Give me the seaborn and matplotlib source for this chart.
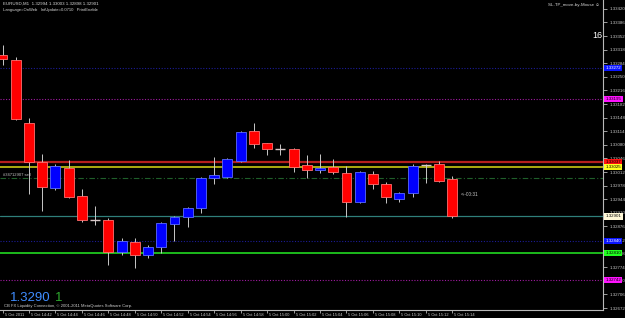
import matplotlib
matplotlib.use("Agg")
import matplotlib.pyplot as plt
import matplotlib.transforms as mtransforms
import seaborn as sns
import pandas as pd

# ---------------- data ----------------
minutes = ["14:40", "14:41", "14:42", "14:43", "14:44", "14:45", "14:46", "14:47",
           "14:48", "14:49", "14:50", "14:51", "14:52", "14:53", "14:54", "14:55",
           "14:56", "14:57", "14:58", "14:59", "15:00", "15:01", "15:02", "15:03",
           "15:04", "15:05", "15:06", "15:07", "15:08", "15:09", "15:10", "15:11",
           "15:12", "15:13", "15:14"]
opens = [1.33305, 1.33292, 1.33135, 1.33037, 1.32972, 1.33022, 1.32952, 1.32893,
         1.32892, 1.32812, 1.32837, 1.32805, 1.32825, 1.32882, 1.32900, 1.32922,
         1.32997, 1.33000, 1.33040, 1.33115, 1.33085, 1.33070, 1.33070, 1.33030,
         1.33017, 1.33025, 1.33010, 1.32937, 1.33007, 1.32982, 1.32945, 1.32960,
         1.33030, 1.33032, 1.32994]
highs = [1.33330, 1.33300, 1.33147, 1.33057, 1.33032, 1.33042, 1.32970, 1.32927,
         1.32897, 1.32847, 1.32847, 1.32830, 1.32887, 1.32902, 1.32925, 1.33000,
         1.33050, 1.33047, 1.33115, 1.33135, 1.33085, 1.33082, 1.33072, 1.33055,
         1.33057, 1.33045, 1.33027, 1.33015, 1.33015, 1.32987, 1.32962, 1.33032,
         1.33032, 1.33040, 1.33003]
lows = [1.33280, 1.33142, 1.32957, 1.32915, 1.32967, 1.32947, 1.32887, 1.32880,
        1.32780, 1.32805, 1.32772, 1.32797, 1.32810, 1.32840, 1.32875, 1.32910,
        1.32982, 1.32997, 1.33037, 1.33072, 1.33055, 1.33055, 1.33012, 1.32997,
        1.33010, 1.33007, 1.32900, 1.32935, 1.32970, 1.32935, 1.32937, 1.32950,
        1.32985, 1.32987, 1.32898]
closes = [1.33295, 1.33145, 1.33037, 1.32975, 1.33027, 1.32950, 1.32892, 1.32893,
          1.32812, 1.32840, 1.32805, 1.32825, 1.32885, 1.32900, 1.32922, 1.32997,
          1.33005, 1.33045, 1.33112, 1.33082, 1.33070, 1.33070, 1.33025, 1.33017,
          1.33022, 1.33012, 1.32937, 1.33012, 1.32982, 1.32950, 1.32960, 1.33027,
          1.33030, 1.32990, 1.32901]

time_labels = ["5 Oct 2011", "5 Oct 14:42", "5 Oct 14:44", "5 Oct 14:46", "5 Oct 14:48",
               "5 Oct 14:50", "5 Oct 14:52", "5 Oct 14:54", "5 Oct 14:56", "5 Oct 14:58",
               "5 Oct 15:00", "5 Oct 15:02", "5 Oct 15:04", "5 Oct 15:06", "5 Oct 15:08",
               "5 Oct 15:10", "5 Oct 15:12", "5 Oct 15:14"]
time_label_minutes = ["14:40", "14:42", "14:44", "14:46", "14:48", "14:50", "14:52",
                      "14:54", "14:56", "14:58", "15:00", "15:02", "15:04", "15:06",
                      "15:08", "15:10", "15:12", "15:14"]

price_ticks = [1.33420, 1.33386, 1.33352, 1.33318, 1.33284, 1.33250, 1.33216, 1.33182,
               1.33148, 1.33114, 1.33080, 1.33046, 1.33012, 1.32978, 1.32944, 1.32910,
               1.32876, 1.32842, 1.32808, 1.32774, 1.32740, 1.32706, 1.32672]

level_prices = [1.33272, 1.33195, 1.33037, 1.33025, 1.32997, 1.32901, 1.32840, 1.32810, 1.32742]
level_colors = ["#1c1c96", "#a21aa2", "#b41e1e", "#c8c814", "#1f5f2a", "#2f7f7a",
                "#1c1c96", "#1ec81e", "#a21aa2"]
level_styles = [(0, (1, 1.5)), (0, (1, 1.5)), "-", "-", (0, (5, 2, 1, 2)), "-",
                (0, (1, 1.5)), "-", (0, (1, 1.5))]
level_widths = [0.8, 0.8, 1.6, 1.2, 0.8, 0.9, 0.8, 1.3, 0.8]
box_colors = ["#0a14ff", "#ff14ff", "#ff1010", "#ffff20", None, "#fff8d8",
              "#0a14ff", "#20ff20", "#ff14ff"]
box_text = ["white", "black", "black", "black", None, "black", "white", "black", "black"]

# ---------------- figure ----------------
sns.set_theme(style="dark")
plt.rcParams["font.family"] = ["Liberation Sans", "DejaVu Sans"]

df = pd.DataFrame({"minute": minutes, "open": opens, "high": highs,
                   "low": lows, "close": closes})
df["idx"] = range(len(df))

fig = plt.figure(figsize=(6.25, 3.18), dpi=100, facecolor="black")
ax = fig.add_axes([0.0, 8 / 318, 603 / 625, 310 / 318])
ax.set_facecolor("black")
ax.grid(False)

# level lines
for p, c, ls, lw in zip(level_prices, level_colors, level_styles, level_widths):
    ax.axhline(p, color=c, linestyle=ls, linewidth=lw, zorder=1)

# wicks
ax.vlines(df["idx"], df["low"], df["high"], color="#c8c8c8", linewidth=0.7, zorder=2)

# bodies
for _, r in df.iterrows():
    if abs(r["close"] - r["open"]) < 1e-6:
        ax.hlines(r["open"], r["idx"] - 0.37, r["idx"] + 0.37, color="#d8c8c8",
                  linewidth=1.0, zorder=3)
        continue
    up = r["close"] > r["open"]
    fc = "#0000ff" if up else "#ff0000"
    ec = "#5a6aff" if up else "#ff7070"
    ax.bar(r["idx"], r["close"] - r["open"], bottom=r["open"], width=0.75,
           color=fc, edgecolor=ec, linewidth=0.6, zorder=3)

ax.set_xlim(-0.19, 45.39)
ax.set_ylim(1.326672, 1.334422)

# spines
for s in ["left", "top"]:
    ax.spines[s].set_visible(False)
for s in ["right", "bottom"]:
    ax.spines[s].set_visible(True)
    ax.spines[s].set_color("#b8b8b8")
    ax.spines[s].set_linewidth(0.8)

# right price axis
ax.yaxis.tick_right()
ax.set_yticks(price_ticks)
ax.set_yticklabels([f"{v:.5f}" for v in price_ticks])
ax.tick_params(axis="y", which="both", right=True, left=False, length=3, width=0.6,
               color="#b8b8b8", labelsize=3.2, labelcolor="#c8c8c8", pad=1.5)

# bottom time axis
pos = [minutes.index(m) for m in time_label_minutes]
ax.set_xticks(pos)
ax.set_xticklabels(time_labels)
ax.tick_params(axis="x", which="both", bottom=True, length=2, width=0.6,
               color="#b8b8b8", labelsize=2.9, labelcolor="#c8c8c8", pad=0.2)
off = mtransforms.ScaledTranslation(2 / 100, 0, fig.dpi_scale_trans)
for lab in ax.get_xticklabels():
    lab.set_horizontalalignment("left")
    lab.set_transform(lab.get_transform() + off)

# price label boxes on right axis
bt = mtransforms.blended_transform_factory(ax.transAxes, ax.transData)
for p, bc, tc in zip(level_prices, box_colors, box_text):
    if bc is None:
        continue
    ax.text(1.004, p, f"{p:.5f}", transform=bt, fontsize=3.2, color=tc,
            ha="left", va="center", clip_on=False, zorder=6,
            bbox=dict(boxstyle="square,pad=0.3", fc=bc, ec="none"))

# chart texts
ax.text(0.005, 1.33005, "#34712907 sell", transform=bt, fontsize=3.0,
        color="#c8c8c8", ha="left", va="center")
ax.text(34.62, 1.32957, "<--00:31", fontsize=3.4, color="#c8c8c8",
        ha="left", va="center")

fig.text(3 / 625, 1 - 4 / 318, "EURUSD,M1  1.32994 1.33003 1.32898 1.32901",
         fontsize=3.2, color="#d8d8d8", ha="left", va="center")
fig.text(3 / 625, 1 - 10 / 318, "Language=OnWeb   IntUpdate=0.0710   PrintEnable",
         fontsize=3.0, color="#d8d8d8", ha="left", va="center")
fig.text(600 / 625, 1 - 5 / 318, "SL-TP_move-by-Mouse \u263A", fontsize=3.2,
         color="#d8d8d8", ha="right", va="center")
fig.text(597 / 625, 1 - 35 / 318, "16", fontsize=6.5, color="white",
         ha="center", va="center")
fig.text(10 / 625, 1 - 298 / 318, "1.3290", fontsize=9.5, color="#3f8cff",
         ha="left", va="center")
fig.text(55 / 625, 1 - 298 / 318, "1", fontsize=9.5, color="#2ea82e",
         ha="left", va="center")
fig.text(4 / 625, 1 - 306.5 / 318,
         "CB FX Liquidity Connection, \u00a9 2001-2011 MetaQuotes Software Corp.",
         fontsize=3.0, color="#d0d0d0", ha="left", va="center")

fig.savefig("out.png", dpi=100, facecolor="black")
